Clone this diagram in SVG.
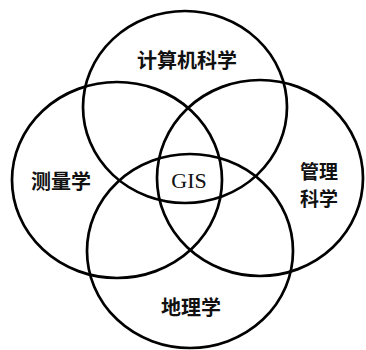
<svg xmlns="http://www.w3.org/2000/svg" width="366" height="350" viewBox="0 0 366 350">
<style>
.c{fill:none;stroke:#000;stroke-width:2.7}
.t{font-family:"Noto Sans CJK SC","Noto Sans",sans-serif;font-size:20px;font-weight:bold;fill:#111;text-anchor:middle;dominant-baseline:central}
.m{font-size:19px}
.g{font-family:"Liberation Serif",serif;font-size:22px;fill:#111;text-anchor:middle;dominant-baseline:central}
</style>
<rect width="366" height="350" fill="#fff"/>
<g id="connectors"></g>
<g id="computer"><ellipse class="c" cx="185" cy="107" rx="102" ry="96"/><text class="t" x="187" y="59">计算机科学</text></g>
<g id="survey"><ellipse class="c" cx="117" cy="180" rx="105" ry="98"/><text class="t" x="61" y="180">测量学</text></g>
<g id="management"><ellipse class="c" cx="260" cy="178" rx="103" ry="98"/><text class="t m" x="319" y="170">管理</text><text class="t m" x="319" y="197">科学</text></g>
<g id="geography"><ellipse class="c" cx="190" cy="251" rx="103" ry="97"/><text class="t" x="191" y="306">地理学</text></g>
<g id="gis"><text class="g" x="189" y="180">GIS</text></g>
</svg>
